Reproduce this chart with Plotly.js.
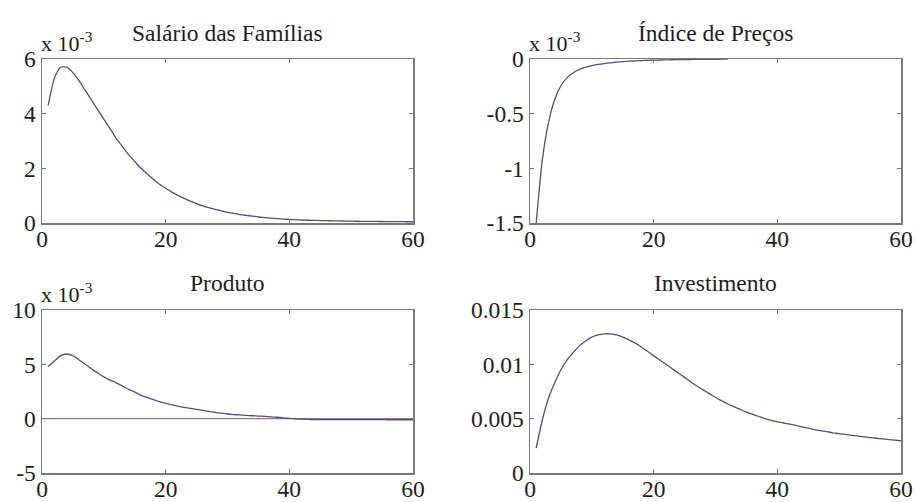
<!DOCTYPE html>
<html>
<head>
<meta charset="utf-8">
<script src="https://cdn.plot.ly/plotly-3.0.1.min.js"></script>
<style>html,body{margin:0;padding:0;background:#fff;}#chart{width:918px;height:502px;}</style>
</head>
<body>
<div id="chart"></div>
<script>
// Periods (horizon)
var periods = [1,2,3,4,5,6,7,8,9,10,11,12,13,14,15,16,17,18,19,20,21,22,23,24,25,26,27,28,29,30,31,32,33,34,35,36,37,38,39,40,41,42,43,44,45,46,47,48,49,50,51,52,53,54,55,56,57,58,59,60];
var pricePeriods = [1,2,3,4,5,6,7,8,9,10,11,12,13,14,15,16,17,18,19,20,21,22,23,24,25,26,27,28,29,30,31,32];

// Salário das Famílias (x 10^-3)
var salario = [4.3,5.3,5.7,5.7,5.5,5.2,4.85,4.5,4.15,3.8,3.45,3.1,2.8,2.5,2.25,2.0,1.8,1.6,1.42,1.27,1.13,1.01,0.9,0.8,0.71,0.63,0.56,0.5,0.44,0.39,0.35,0.31,0.28,0.25,0.22,0.2,0.18,0.16,0.145,0.13,0.12,0.11,0.1,0.095,0.09,0.085,0.08,0.075,0.07,0.067,0.064,0.061,0.058,0.056,0.054,0.052,0.05,0.048,0.046,0.045];

// Índice de Preços (x 10^-3)
var precos = [-1.5,-0.92,-0.58,-0.37,-0.245,-0.17,-0.125,-0.095,-0.075,-0.06,-0.05,-0.042,-0.035,-0.029,-0.024,-0.02,-0.017,-0.014,-0.012,-0.01,-0.009,-0.008,-0.007,-0.006,-0.005,-0.0045,-0.004,-0.0035,-0.003,-0.0025,-0.002,-0.002];

// Produto (x 10^-3)
var produto = [4.8,5.3,5.8,5.95,5.8,5.4,5.0,4.6,4.2,3.85,3.55,3.3,3.0,2.7,2.45,2.15,1.95,1.75,1.57,1.42,1.28,1.15,1.04,0.94,0.85,0.76,0.67,0.58,0.5,0.43,0.38,0.34,0.3,0.27,0.24,0.21,0.17,0.13,0.08,0.03,-0.02,-0.05,-0.07,-0.08,-0.08,-0.08,-0.085,-0.085,-0.09,-0.09,-0.09,-0.09,-0.095,-0.095,-0.095,-0.1,-0.1,-0.1,-0.1,-0.1];
var zeroX = [0,60];
var zeroY = [0,0];

// Investimento
var investimento = [0.0023,0.0049,0.0069,0.0083,0.0095,0.0104,0.0111,0.0117,0.01215,0.0125,0.0127,0.0128,0.0128,0.0127,0.0125,0.01225,0.01195,0.0116,0.0112,0.0108,0.0104,0.0100,0.0096,0.0092,0.0088,0.0084,0.0080,0.00765,0.0073,0.00695,0.00665,0.00635,0.0061,0.00585,0.0056,0.0054,0.0052,0.0050,0.00485,0.0047,0.0046,0.0045,0.00438,0.00425,0.00412,0.0040,0.0039,0.0038,0.0037,0.00362,0.00355,0.00347,0.0034,0.00333,0.00326,0.0032,0.00314,0.00308,0.00302,0.00297];

// Titles and tick labels
var titles = ["Salário das Famílias","Índice de Preços","Produto","Investimento"];
var xTicks = [0,20,40,60];
var salTicks = [0,2,4,6], salText = ["0","2","4","6"];
var preTicks = [-1.5,-1,-0.5,0], preText = ["-1.5","-1","-0.5","0"];
var proTicks = [-5,0,5,10], proText = ["-5","0","5","10"];
var invTicks = [0,0.005,0.01,0.015], invText = ["0","0.005","0.01","0.015"];

var W = 918, H = 502;
var lineCol = "#50507e";
var zeroCol = "#a0728f";
var axCol = "#7a7a7a";
var txtCol = "#1e1e1e";
var FONT = "Liberation Serif, Times New Roman, serif";
var FS = 23.5;

function px(x){return x/W;}
function py(y){return 1 - y/H;}

var colX = [[42,413],[530,901]];
var rowY = [[59,223],[310,473]];

function xaxis(dom, anchor){
  return {domain:[px(dom[0]),px(dom[1])], range:[0,60], anchor:anchor,
    tickvals:xTicks, ticktext:xTicks.map(String), ticks:"inside", ticklen:4, tickcolor:axCol,
    showline:true, linecolor:axCol, linewidth:1.5, mirror:"ticks", showgrid:false, zeroline:false,
    ticklabelstandoff:-6,
    tickfont:{family:FONT,size:FS,color:txtCol}, fixedrange:true};
}
function yaxis(dom, anchor, rng, tv, tt){
  return {domain:[py(dom[1]),py(dom[0])], range:rng, anchor:anchor,
    tickvals:tv, ticktext:tt, ticks:"inside", ticklen:4, tickcolor:axCol,
    showline:true, linecolor:axCol, linewidth:1.5, mirror:"ticks", showgrid:false, zeroline:false,
    tickfont:{family:FONT,size:FS,color:txtCol}, fixedrange:true};
}

var data = [
  {x:periods, y:salario, xaxis:"x", yaxis:"y", mode:"lines", line:{color:lineCol,width:1.3,shape:"spline",smoothing:0.6}, hoverinfo:"skip"},
  {x:pricePeriods, y:precos, xaxis:"x2", yaxis:"y2", mode:"lines", line:{color:lineCol,width:1.3,shape:"spline",smoothing:0.6}, hoverinfo:"skip"},
  {x:zeroX, y:zeroY, xaxis:"x3", yaxis:"y3", mode:"lines", line:{color:zeroCol,width:1.3}, hoverinfo:"skip"},
  {x:periods, y:produto, xaxis:"x3", yaxis:"y3", mode:"lines", line:{color:lineCol,width:1.3,shape:"spline",smoothing:0.6}, hoverinfo:"skip"},
  {x:periods, y:investimento, xaxis:"x4", yaxis:"y4", mode:"lines", line:{color:lineCol,width:1.3,shape:"spline",smoothing:0.6}, hoverinfo:"skip"}
];

var layout = {
  width:W, height:H, margin:{l:0,r:0,t:0,b:0}, showlegend:false,
  paper_bgcolor:"#ffffff", plot_bgcolor:"#ffffff",
  font:{family:FONT,color:txtCol},
  xaxis: xaxis(colX[0],"y"),
  yaxis: yaxis(rowY[0],"x",[0,6],salTicks,salText),
  xaxis2: xaxis(colX[1],"y2"),
  yaxis2: yaxis(rowY[0],"x2",[-1.5,0],preTicks,preText),
  xaxis3: xaxis(colX[0],"y3"),
  yaxis3: yaxis(rowY[1],"x3",[-5,10],proTicks,proText),
  xaxis4: xaxis(colX[1],"y4"),
  yaxis4: yaxis(rowY[1],"x4",[0,0.015],invTicks,invText),
  annotations: []
};

var titlePos = [[227,33],[715,33],[227,283],[715,283]];
for (var i=0;i<4;i++){
  layout.annotations.push({text:titles[i], xref:"paper", yref:"paper", x:px(titlePos[i][0]), y:py(titlePos[i][1]),
    xanchor:"center", yanchor:"middle", showarrow:false, font:{family:FONT,size:FS,color:txtCol}});
}
var expPos = [[42,58],[530,58],[42,309]];
for (var j=0;j<3;j++){
  layout.annotations.push({text:"x 10<sup>-3</sup>", xref:"paper", yref:"paper", x:px(expPos[j][0]-3), y:py(expPos[j][1]),
    xanchor:"left", yanchor:"bottom", showarrow:false, font:{family:FONT,size:22,color:txtCol}});
}

Plotly.newPlot("chart", data, layout, {staticPlot:true});
</script>
</body>
</html>
